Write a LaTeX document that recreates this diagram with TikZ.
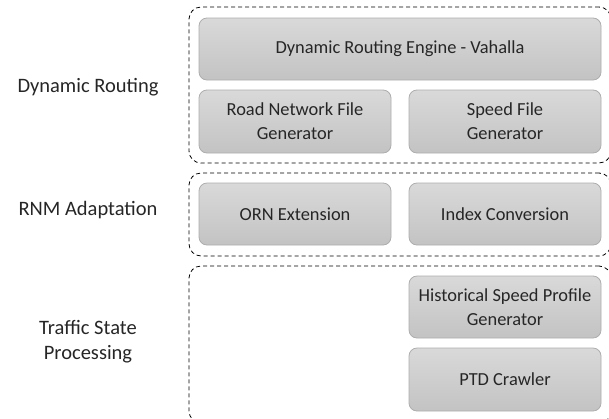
\documentclass[tikz,border=0pt]{standalone}
\usepackage{fontspec}
\setmainfont{Carlito}
\definecolor{boxtop}{HTML}{D9D9D9}
\definecolor{boxbot}{HTML}{C3C3C3}
\definecolor{boxline}{HTML}{ADADAD}
\definecolor{txt}{HTML}{262626}
\begin{document}
\begin{tikzpicture}[x=1pt,y=-1pt,
  block/.style={draw=boxline, line width=0.8pt, rounded corners=8pt,
    top color=boxtop, bottom color=boxbot, text=txt, align=center,
    inner sep=0pt, font=\fontsize{18.4}{24}\selectfont},
  group/.style={draw=black, line width=0.8pt, dash pattern=on 4pt off 3pt,
    rounded corners=12pt, inner sep=0pt},
  layer/.style={text=txt, align=center, font=\fontsize{20.5}{25}\selectfont}]
\useasboundingbox (0,0) rectangle (609,418);
\clip (0,0) rectangle (609,418);

% dashed layer frames
\node[group, minimum width=422pt, minimum height=156pt] (g1) at (400,85) {};
\node[group, minimum width=422pt, minimum height=83pt] (g2) at (400,214.5) {};
\node[group, minimum width=422pt, minimum height=157pt] (g3) at (400,344.5) {};

% layer names
\node[layer] (l1) at (88,87) {Dynamic Routing};
\node[layer] (l2) at (88,210) {RNM Adaptation};
\node[layer] (l3) at (88,342) {Traffic State\\Processing};

% components
\node[block, minimum width=402pt, minimum height=62pt] (dre) at (400,49) {Dynamic Routing Engine - Vahalla};
\node[block, minimum width=192pt, minimum height=63pt] (rnf) at (295,121.5) {Road Network File\\Generator};
\node[block, minimum width=192pt, minimum height=63pt] (sfg) at (505,121.5) {Speed File\\Generator};
\node[block, minimum width=192pt, minimum height=62pt] (orn) at (295,214) {ORN Extension};
\node[block, minimum width=192pt, minimum height=62pt] (idx) at (505,214) {Index Conversion};
\node[block, minimum width=192pt, minimum height=62pt] (hsp) at (505,307) {Historical Speed Profile\\Generator};
\node[block, minimum width=192pt, minimum height=63pt] (ptd) at (505,379.5) {PTD Crawler};
\end{tikzpicture}
\end{document}
